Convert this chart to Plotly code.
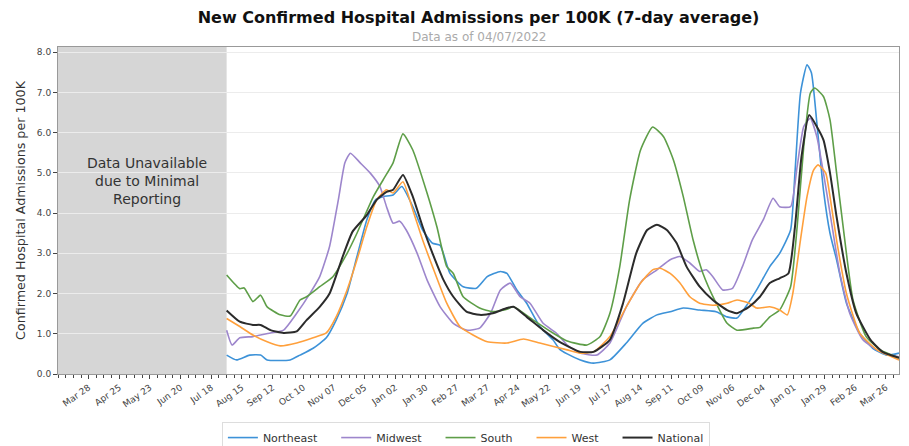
import plotly.graph_objects as go

# ---------------- data ----------------
ne_dates = ["2020-08-01","2020-08-10","2020-08-22","2020-09-01","2020-09-07","2020-09-28","2020-10-07","2020-10-19",
            "2020-10-31","2020-11-09","2020-11-19","2020-11-28","2020-12-07","2020-12-15","2020-12-22","2020-12-31",
            "2021-01-08","2021-01-18","2021-01-27","2021-02-05","2021-02-12","2021-02-21","2021-03-05","2021-03-17",
            "2021-03-27","2021-04-08","2021-04-14","2021-04-23","2021-05-02","2021-05-14","2021-05-26","2021-06-01",
            "2021-06-08","2021-06-20","2021-07-02","2021-07-17","2021-08-01","2021-08-16","2021-08-29","2021-09-10",
            "2021-09-22","2021-10-07","2021-10-22","2021-11-01","2021-11-10","2021-11-18","2021-11-28","2021-12-10",
            "2021-12-19","2021-12-29","2022-01-02","2022-01-07","2022-01-13","2022-01-17","2022-01-22","2022-01-28",
            "2022-02-03","2022-02-09","2022-02-18","2022-03-02","2022-03-14","2022-03-27","2022-04-07"]
ne_vals = [0.47,0.35,0.47,0.47,0.35,0.35,0.47,0.64,
           0.90,1.34,2.00,2.92,3.83,4.33,4.41,4.45,
           4.66,4.16,3.58,3.25,3.20,2.50,2.17,2.13,
           2.42,2.55,2.50,2.09,1.76,1.18,0.85,0.62,
           0.50,0.35,0.27,0.35,0.77,1.26,1.47,1.55,
           1.64,1.59,1.55,1.42,1.39,1.67,2.09,2.67,
           3.00,3.58,5.00,6.98,7.69,7.49,6.24,4.58,
           3.50,2.84,1.76,1.02,0.64,0.47,0.52]

mw_dates = ["2020-08-01","2020-08-06","2020-08-13","2020-08-25","2020-09-10","2020-09-22","2020-10-04","2020-10-16",
            "2020-10-25","2020-11-03","2020-11-11","2020-11-17","2020-11-22","2020-12-01","2020-12-10","2020-12-19",
            "2020-12-25","2020-12-31","2021-01-06","2021-01-12","2021-01-22","2021-01-31","2021-02-12","2021-02-24",
            "2021-03-08","2021-03-20","2021-03-30","2021-04-08","2021-04-17","2021-04-26","2021-05-05","2021-05-17",
            "2021-05-29","2021-06-08","2021-06-20","2021-07-05","2021-07-17","2021-08-01","2021-08-16","2021-08-29",
            "2021-09-10","2021-09-19","2021-09-28","2021-10-07","2021-10-13","2021-10-19","2021-10-28","2021-11-06",
            "2021-11-15","2021-11-24","2021-12-04","2021-12-13","2021-12-19","2021-12-29","2022-01-04","2022-01-10",
            "2022-01-16","2022-01-22","2022-01-28","2022-02-03","2022-02-12","2022-02-21","2022-03-05","2022-03-21",
            "2022-04-07"]
mw_vals = [1.09,0.72,0.90,0.93,1.02,1.09,1.51,2.00,
           2.42,3.17,4.33,5.25,5.49,5.25,5.00,4.66,
           4.16,3.75,3.80,3.58,3.00,2.34,1.67,1.26,
           1.09,1.14,1.51,2.09,2.26,1.92,1.76,1.26,
           1.02,0.72,0.52,0.47,0.77,1.67,2.34,2.59,
           2.84,2.92,2.76,2.55,2.59,2.42,2.09,2.13,
           2.67,3.33,3.83,4.37,4.16,4.16,5.16,6.15,
           6.36,5.90,5.00,4.00,2.50,1.51,0.85,0.55,
           0.43]

so_dates = ["2020-08-01","2020-08-13","2020-08-17","2020-08-25","2020-09-01","2020-09-07","2020-09-19","2020-09-28",
            "2020-10-07","2020-10-13","2020-10-25","2020-11-06","2020-11-19","2020-11-28","2020-12-13","2020-12-22",
            "2020-12-31","2021-01-09","2021-01-18","2021-01-31","2021-02-09","2021-02-18","2021-02-24","2021-03-05",
            "2021-03-20","2021-04-01","2021-04-14","2021-04-20","2021-05-08","2021-05-26","2021-06-08","2021-06-26",
            "2021-07-08","2021-07-17","2021-07-26","2021-08-04","2021-08-14","2021-08-25","2021-09-04","2021-09-13",
            "2021-09-22","2021-10-01","2021-10-10","2021-10-22","2021-11-01","2021-11-10","2021-11-25","2021-12-01",
            "2021-12-10","2021-12-19","2021-12-29","2022-01-04","2022-01-10","2022-01-16","2022-01-20","2022-01-28",
            "2022-02-03","2022-02-09","2022-02-15","2022-02-24","2022-03-08","2022-03-21","2022-04-07"]
so_vals = [2.46,2.12,2.14,1.80,1.96,1.67,1.47,1.44,
           1.84,1.92,2.17,2.42,3.00,3.50,4.41,4.83,
           5.25,5.97,5.57,4.50,3.66,2.67,2.50,1.92,
           1.64,1.55,1.61,1.67,1.34,1.02,0.82,0.72,
           0.93,1.51,2.67,4.33,5.57,6.14,5.90,5.32,
           4.41,3.33,2.50,1.76,1.26,1.09,1.14,1.16,
           1.42,1.59,2.17,3.66,5.65,6.98,7.11,6.90,
           6.32,5.00,3.66,1.84,0.93,0.60,0.40]

we_dates = ["2020-08-01","2020-08-13","2020-08-25","2020-09-07","2020-09-19","2020-10-04","2020-10-19","2020-10-31",
            "2020-11-09","2020-11-19","2020-11-28","2020-12-07","2020-12-16","2020-12-25","2020-12-31","2021-01-09",
            "2021-01-18","2021-01-27","2021-02-05","2021-02-18","2021-03-02","2021-03-14","2021-03-27","2021-04-14",
            "2021-04-29","2021-05-14","2021-06-08","2021-06-20","2021-07-02","2021-07-17","2021-08-01","2021-08-14",
            "2021-08-25","2021-09-01","2021-09-10","2021-09-19","2021-09-28","2021-10-07","2021-10-19","2021-11-01",
            "2021-11-10","2021-11-21","2021-11-28","2021-12-10","2021-12-19","2021-12-26","2021-12-31","2022-01-07",
            "2022-01-13","2022-01-19","2022-01-23","2022-01-30","2022-02-03","2022-02-09","2022-02-18","2022-03-02",
            "2022-03-18","2022-04-07"]
we_vals = [1.38,1.18,0.97,0.80,0.70,0.77,0.90,1.02,
           1.42,2.09,2.84,3.66,4.33,4.58,4.50,4.78,
           4.08,3.33,2.67,1.76,1.18,0.97,0.80,0.77,
           0.87,0.77,0.60,0.52,0.55,0.93,1.67,2.26,
           2.59,2.63,2.50,2.26,1.92,1.76,1.71,1.76,
           1.84,1.76,1.64,1.67,1.59,1.47,2.00,3.33,
           4.41,5.07,5.20,5.00,4.41,3.33,2.00,1.02,
           0.60,0.35]

na_dates = ["2020-08-01","2020-08-13","2020-08-25","2020-09-01","2020-09-10","2020-09-22","2020-10-04","2020-10-13",
            "2020-10-25","2020-11-03","2020-11-15","2020-11-24","2020-12-07","2020-12-16","2020-12-25","2020-12-31",
            "2021-01-09","2021-01-18","2021-01-27","2021-02-05","2021-02-15","2021-02-24","2021-03-08","2021-03-20",
            "2021-04-01","2021-04-14","2021-04-20","2021-05-02","2021-05-17","2021-06-01","2021-06-20","2021-07-02",
            "2021-07-17","2021-07-29","2021-08-10","2021-08-20","2021-08-29","2021-09-07","2021-09-16","2021-09-25",
            "2021-10-07","2021-10-19","2021-11-01","2021-11-10","2021-11-21","2021-12-01","2021-12-10","2021-12-19",
            "2021-12-27","2022-01-02","2022-01-08","2022-01-15","2022-01-22","2022-01-28","2022-02-03","2022-02-09",
            "2022-02-18","2022-02-27","2022-03-12","2022-03-23","2022-04-07"]
na_vals = [1.58,1.30,1.22,1.22,1.09,1.02,1.06,1.34,
           1.67,2.00,2.92,3.54,3.95,4.33,4.53,4.58,
           4.95,4.41,3.66,3.00,2.34,1.92,1.55,1.47,
           1.51,1.64,1.67,1.42,1.09,0.80,0.55,0.55,
           0.85,1.76,3.00,3.58,3.71,3.58,3.25,2.67,
           2.17,1.84,1.59,1.51,1.67,1.92,2.26,2.38,
           2.50,3.66,5.41,6.44,6.15,5.82,5.00,3.91,
           2.50,1.51,0.85,0.55,0.40]

# x tick labels (every 4 weeks)
tick_dates = ["2020-03-28","2020-04-25","2020-05-23","2020-06-20","2020-07-18","2020-08-15","2020-09-12",
              "2020-10-10","2020-11-07","2020-12-05","2021-01-02","2021-01-30","2021-02-27","2021-03-27",
              "2021-04-24","2021-05-22","2021-06-19","2021-07-17","2021-08-14","2021-09-11","2021-10-09",
              "2021-11-06","2021-12-04","2022-01-01","2022-01-29","2022-02-26","2022-03-26"]
tick_labels = ["Mar 28","Apr 25","May 23","Jun 20","Jul 18","Aug 15","Sep 12","Oct 10","Nov 07","Dec 05",
               "Jan 02","Jan 30","Feb 27","Mar 27","Apr 24","May 22","Jun 19","Jul 17","Aug 14","Sep 11",
               "Oct 09","Nov 06","Dec 04","Jan 01","Jan 29","Feb 26","Mar 26"]
y_ticks = [0, 1, 2, 3, 4, 5, 6, 7, 8]

series = [
    ("Northeast", ne_dates, ne_vals, "#3d92d8", 1.6),
    ("Midwest",   mw_dates, mw_vals, "#9d86cc", 1.6),
    ("South",     so_dates, so_vals, "#5e9e48", 1.6),
    ("West",      we_dates, we_vals, "#ffa03c", 1.6),
    ("National",  na_dates, na_vals, "#2b2b2b", 2.0),
]

x_start = "2020-02-29"
x_end = "2022-04-07"
unavail_end = "2020-08-01"
DAY_MS = 86400000
FONT = "DejaVu Sans"
PAD = "\u00a0\u00a0\u00a0\u00a0"  # extra spacing between legend entries

fig = go.Figure()
for i, (name, d, v, c, w) in enumerate(series):
    label = name if i == len(series) - 1 else name + PAD
    fig.add_trace(go.Scatter(x=d, y=v, mode="lines", name=label,
                             line=dict(color=c, width=w, shape="spline", smoothing=0.5)))

# gray "data unavailable" region
fig.add_shape(type="rect", xref="x", yref="paper", x0=x_start, x1=unavail_end, y0=0, y1=1,
              fillcolor="#d6d6d6", line=dict(width=0), layer="below")
fig.add_annotation(x="2020-05-20", y=4.8, xref="x", yref="y", showarrow=False,
                   text="Data Unavailable<br>due to Minimal<br>Reporting",
                   font=dict(family=FONT, size=14, color="#333333"), align="center")

# the page shows the figure with an 8px body margin, so the figure is sized to the visible area
fig.update_layout(
    width=901, height=438,
    margin=dict(l=50, r=10, t=39, b=72, autoexpand=False),
    paper_bgcolor="white", plot_bgcolor="white",
    font=dict(family=FONT, color="#333333"),
    title=dict(text="<b>New Confirmed Hospital Admissions per 100K (7-day average)</b>",
               x=0.5, xref="paper", xanchor="center", y=0.979, yref="container", yanchor="middle",
               font=dict(family=FONT, size=16, color="#111111")),
    showlegend=True,
    legend=dict(orientation="h", x=0.485, xanchor="center", y=-0.147, yanchor="top",
                bordercolor="#dddddd", borderwidth=1, bgcolor="white",
                font=dict(family=FONT, size=11, color="#333333")),
)
fig.add_annotation(text="Data as of 04/07/2022", xref="paper", yref="paper", x=0.5, y=1.031,
                   showarrow=False, font=dict(family=FONT, size=12, color="#aaaaaa"),
                   xanchor="center", yanchor="middle")

fig.update_xaxes(
    type="date", range=[x_start, x_end], automargin=False,
    tickmode="array", tickvals=tick_dates, ticktext=tick_labels, tickangle=-35,
    ticks="outside", ticklen=4, tickcolor="#444444",
    tickfont=dict(family=FONT, size=9, color="#444444"),
    minor=dict(ticks="outside", dtick=7 * DAY_MS, tick0="2020-03-28", ticklen=3, tickcolor="#444444",
               showgrid=False),
    showgrid=False, showline=True, linecolor="#999999", linewidth=1, mirror=True, zeroline=False,
)
fig.update_yaxes(
    range=[0, 8.13], tickmode="array", tickvals=y_ticks, tickformat=".1f", automargin=False,
    ticks="outside", ticklen=4, tickcolor="#444444",
    tickfont=dict(family=FONT, size=9, color="#444444"),
    showgrid=True, gridcolor="#ececec", gridwidth=1,
    showline=True, linecolor="#999999", linewidth=1, mirror=True, zeroline=False,
    title=dict(text="Confirmed Hospital Admissions per 100K", font=dict(family=FONT, size=12.7, color="#333333"),
               standoff=8),
)

fig.write_html("out.html")
